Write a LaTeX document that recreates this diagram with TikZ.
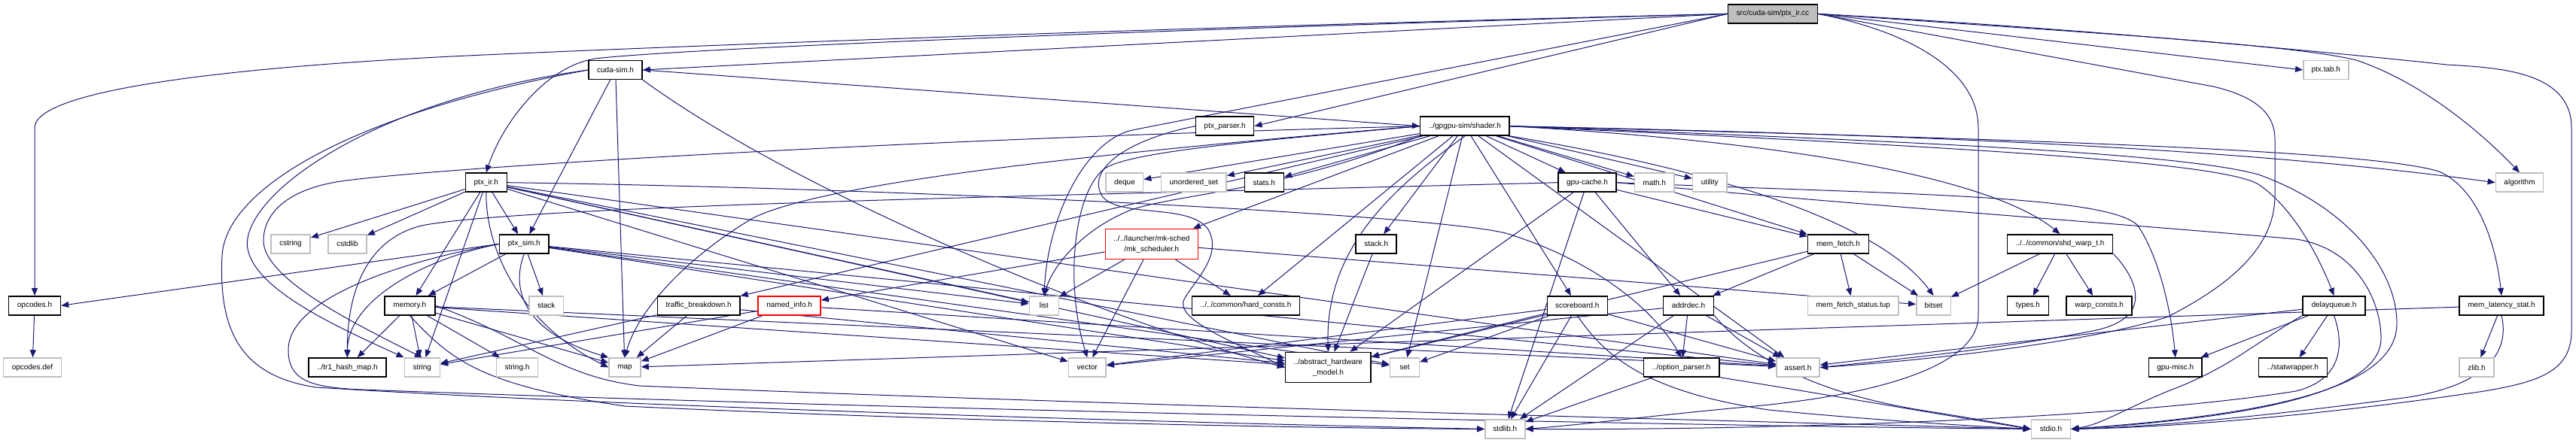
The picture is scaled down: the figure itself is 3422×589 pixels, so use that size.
\documentclass[tikz,border=0pt]{standalone}
\usepackage{fontspec}
\setmainfont{Liberation Sans}
\usetikzlibrary{arrows.meta}
\pgfdeclarelayer{bg}
\pgfsetlayers{bg,main}
\definecolor{edgec}{HTML}{191970}
\definecolor{grayb}{HTML}{BFBFBF}
\tikzset{
 nd/.style={draw=black, line width=1.5pt, fill=white, minimum height=25pt, inner sep=0pt, font=\fontsize{10}{12}\selectfont, text=black},
 gn/.style={nd, draw=grayb},
 rn/.style={nd, draw=red},
 rootn/.style={nd, fill=grayb},
 two/.style={align=center, minimum height=40pt, font=\fontsize{10}{14}\selectfont},
 ed/.style={draw=edgec, line width=1pt, -{Triangle[length=10pt,width=8pt]}},
}
\begin{document}
\begin{tikzpicture}[x=1pt,y=-1pt]
\useasboundingbox (0,0) rectangle (3422,589);
% row 0
\node[rootn, minimum width=119pt] (root) at (2355,18.4) {src/cuda-sim/ptx\_ir.cc};
% row 1
\node[nd, minimum width=71pt] (cudasim) at (817.6,93) {cuda-sim.h};
\node[gn, minimum width=60pt] (ptxtab) at (3089.8,93) {ptx.tab.h};
% row 2
\node[nd, minimum width=77pt] (ptxparser) at (1627.2,167.7) {ptx\_parser.h};
\node[nd, minimum width=118.6pt] (shader) at (1945.9,167.7) {../gpgpu-sim/shader.h};
% row 3
\node[nd, minimum width=55pt] (ptxir) at (645.8,242.7) {ptx\_ir.h};
\node[gn, minimum width=49.4pt] (deque) at (1493.9,242.7) {deque};
\node[gn, minimum width=86.4pt] (unset) at (1585.9,242.7) {unordered\_set};
\node[nd, minimum width=52pt] (stats) at (1679.3,242.7) {stats.h};
\node[nd, minimum width=77pt] (gpucache) at (2108.5,242.7) {gpu-cache.h};
\node[gn, minimum width=52.7pt] (math) at (2197.7,242.7) {math.h};
\node[gn, minimum width=45.5pt] (utility) at (2271.3,242.7) {utility};
\node[gn, minimum width=63.3pt] (algorithm) at (3347,242.7) {algorithm};
% row 4
\node[gn, minimum width=52.4pt] (cstring) at (386,324.4) {cstring};
\node[gn, minimum width=51pt] (cstdlib) at (461.5,324.4) {cstdlib};
\node[nd, minimum width=65.8pt] (ptxsim) at (696.3,324.4) {ptx\_sim.h};
\node[rn, two, minimum width=123pt] (mk) at (1529.8,324.4) {../../launcher/mk-sched\\/mk\_scheduler.h};
\node[nd, minimum width=54pt] (stackh) at (1828.2,324.4) {stack.h};
\node[nd, minimum width=80.7pt] (memfetch) at (2441.9,324.4) {mem\_fetch.h};
\node[nd, minimum width=140.4pt] (shdwarp) at (2736.5,324.4) {../../common/shd\_warp\_t.h};
% row 5
\node[nd, minimum width=69pt] (opcodes) at (46,406.3) {opcodes.h};
\node[nd, minimum width=67pt] (memory) at (544.3,406.3) {memory.h};
\node[gn, minimum width=45.2pt] (stack) at (725.8,406.3) {stack};
\node[nd, minimum width=109.5pt] (traffic) at (928.2,406.3) {traffic\_breakdown.h};
\node[rn, minimum width=83pt] (named) at (1048.6,406.3) {named\_info.h};
\node[gn, minimum width=39pt] (list) at (1386.9,406.3) {list};
\node[nd, minimum width=142.7pt] (hard) at (1655,406.3) {../../common/hard\_consts.h};
\node[nd, minimum width=80pt] (scoreboard) at (2095.3,406.3) {scoreboard.h};
\node[nd, minimum width=67pt] (addrdec) at (2243,406.3) {addrdec.h};
\node[gn, minimum width=120.5pt] (mfstatus) at (2461.8,406.3) {mem\_fetch\_status.tup};
\node[gn, minimum width=45.5pt] (bitset) at (2568.5,406.3) {bitset};
\node[nd, minimum width=55pt] (types) at (2693.9,406.3) {types.h};
\node[nd, minimum width=87pt] (warpc) at (2788.6,406.3) {warp\_consts.h};
\node[nd, minimum width=83pt] (delayq) at (3100.5,406.3) {delayqueue.h};
\node[nd, minimum width=112.3pt] (memlat) at (3323,406.3) {mem\_latency\_stat.h};
% row 6
\node[gn, minimum width=77pt] (opcodesdef) at (43,488.5) {opcodes.def};
\node[nd, minimum width=102.8pt] (tr1) at (461.4,488.5) {../tr1\_hash\_map.h};
\node[gn, minimum width=47pt] (string) at (560.8,488.5) {string};
\node[gn, minimum width=55pt] (stringh) at (687,488.5) {string.h};
\node[gn, minimum width=42pt] (map) at (830,488.5) {map};
\node[gn, minimum width=49.8pt] (vector) at (1444.3,488.5) {vector};
\node[nd, two, minimum width=113.5pt] (abstract) at (1764.4,488.5) {../abstract\_hardware\\\_model.h};
\node[gn, minimum width=39pt] (set) at (1865.9,488.5) {set};
\node[nd, minimum width=100.3pt] (optparser) at (2233.6,488.5) {../option\_parser.h};
\node[gn, minimum width=57.4pt] (assert) at (2388.5,488.5) {assert.h};
\node[nd, minimum width=70.3pt] (gpumisc) at (2889.7,488.5) {gpu-misc.h};
\node[nd, minimum width=91pt] (statwrap) at (3045.8,488.5) {../statwrapper.h};
\node[gn, minimum width=45.7pt] (zlib) at (3290,488.5) {zlib.h};
% row 7
\node[gn, minimum width=53.1pt] (stdlib) at (1999.3,570.4) {stdlib.h};
\node[gn, minimum width=52.1pt] (stdio) at (2724.5,570.4) {stdio.h};

\begin{pgfonlayer}{bg}
% root
\draw[ed] (root.west) .. controls (1400,40) and (700,70) .. (600,75) .. controls (300,90) and (46,120) .. (46,170) -- (opcodes.north);
\draw[ed] (root.west) -- (cudasim.east);
\draw[ed] (root.west) .. controls (1500,40) and (900,65) .. (790,78) .. controls (720,90) and (665,170) .. (ptxir.north);
\draw[ed] (root.west) -- (ptxparser.east);
\draw[ed] (root.west) -- (1504,173) .. controls (1440,188) and (1392,290) .. (list.north);
\draw[ed] (root.east) -- (ptxtab.west);
\draw[ed] (root.east) .. controls (2800,45) and (3050,60) .. (3130,80) .. controls (3220,110) and (3300,180) .. (algorithm.north);
\draw[ed] (root.east) .. controls (2800,40) and (3150,75) .. (3250,86) .. controls (3320,90) and (3416,95) .. (3416,170) -- (3416,440) .. controls (3416,495) and (3370,508) .. (3300,520) .. controls (3100,550) and (2900,568) .. (stdio.east);
\draw[ed] (root.east) .. controls (2550,45) and (2628,100) .. (2628,170) -- (2628,420) .. controls (2628,485) and (2500,525) .. (2320,541) .. controls (2200,552) and (2100,565) .. (stdlib.east);
\draw[ed] (root.east) -- (2940,115) .. controls (2995,128) and (3022,150) .. (3022,185) -- (3022,260) .. controls (3022,330) and (2960,380) .. (2880,421) .. controls (2780,455) and (2550,480) .. (assert.east);
% opcodes.h
\draw[ed] (opcodes) -- (opcodesdef);
% cuda-sim.h
\draw[ed] (cudasim.east) -- (shader.west);
\draw[ed] (cudasim) -- (ptxsim);
\draw[ed] (cudasim) -- (map);
\draw[ed] (cudasim.south east) .. controls (1050,250) and (1450,420) .. (abstract.west);
\draw[ed] (cudasim.west) .. controls (480,135) and (310,270) .. (330,335) .. controls (345,390) and (460,440) .. (string.north west);
\draw[ed] (cudasim.west) .. controls (470,150) and (300,250) .. (295,340) .. controls (290,440) and (320,500) .. (420,515) .. controls (900,545) and (1700,565) .. (stdlib.west);
% ptx_parser.h
\draw[ed] (ptxparser.west) .. controls (1500,185) and (1440,225) .. (1465,262) .. controls (1490,290) and (1580,270) .. (1605,305) .. controls (1625,340) and (1585,375) .. (1573,398) .. controls (1560,425) and (1640,455) .. (abstract.west);
% ptx_ir.h
\draw[ed] (ptxir) -- (cstring);
\draw[ed] (ptxir) -- (cstdlib);
\draw[ed] (ptxir) -- (ptxsim);
\draw[ed] (ptxir) -- (memory);
\draw[ed] (ptxir.south) .. controls (645,330) and (690,430) .. (map.west);
\draw[ed] (ptxir) -- (list);
\draw[ed] (ptxir) -- (vector);
\draw[ed] (ptxir) -- (set);
\draw[ed] (ptxir) -- (assert);
\draw[ed] (ptxir) -- (abstract);
\draw[ed] (ptxir.east) .. controls (1200,250) and (1900,285) .. (2000,310) .. controls (2100,340) and (2190,400) .. (optparser.north);
\draw[ed] (ptxir) -- (string);
% ptx_sim.h
\draw[ed] (ptxsim.west) -- (opcodes.east);
\draw[ed] (ptxsim) -- (memory);
\draw[ed] (ptxsim) -- (stack);
\draw[ed] (ptxsim.south) .. controls (680,380) and (690,440) .. (map.north west);
\draw[ed] (ptxsim.west) .. controls (560,345) and (462,400) .. (tr1.north);
\draw[ed] (ptxsim) -- (list);
\draw[ed] (ptxsim) -- (set);
\draw[ed] (ptxsim) -- (abstract);
\draw[ed] (ptxsim) -- (assert);
\draw[ed] (ptxsim.west) .. controls (520,350) and (383,400) .. (383,465) .. controls (383,505) and (410,515) .. (480,518) .. controls (1200,545) and (2300,567) .. (stdio.west);
% memory.h
\draw[ed] (memory) -- (tr1);
\draw[ed] (memory) -- (string);
\draw[ed] (memory) -- (stringh);
\draw[ed] (memory) -- (map);
\draw[ed] (memory) -- (abstract);
\draw[ed] (memory) -- (assert);
\draw[ed] (memory.south) .. controls (600,480) and (640,512) .. (830,540) .. controls (1300,562) and (1800,570) .. (stdlib.west);
\draw[ed] (memory.east) .. controls (700,450) and (740,500) .. (850,513) .. controls (1500,540) and (2400,562) .. (stdio.west);
% named_info.h
\draw[ed] (named) -- (string);
\draw[ed] (named) -- (map);
\draw[ed] (named) -- (assert);
% traffic_breakdown.h
\draw[ed] (traffic) -- (map);
\draw[ed] (traffic) -- (string);
\draw[ed] (traffic) -- (abstract);
% mk_scheduler.h
\draw[ed] (mk) -- (named);
\draw[ed] (mk) -- (list);
\draw[ed] (mk) -- (vector);
\draw[ed] (mk) -- (hard);
\draw[ed] (mk) -- (bitset);
% shader.h
\draw[ed] (shader) -- (deque);
\draw[ed] (shader) -- (unset);
\draw[ed] (shader) -- (stats);
\draw[ed] (shader) -- (math);
\draw[ed] (shader) -- (utility);
\draw[ed] (shader) -- (gpucache);
\draw[ed] (shader) -- (stackh);
\draw[ed] (shader) -- (scoreboard);
\draw[ed] (shader.south) .. controls (1850,250) and (1760,330) .. (abstract.north);
\draw[ed] (shader) -- (set);
\draw[ed] (shader.south west) .. controls (1700,255) and (1560,258) .. (1500,280) .. controls (1440,305) and (1400,350) .. (list.north);
\draw[ed] (shader.west) .. controls (1700,185) and (1500,200) .. (1466,225) .. controls (1425,260) and (1415,380) .. (vector.north);
\draw[ed] (shader.west) .. controls (1500,200) and (1100,240) .. (1000,290) .. controls (900,350) and (845,420) .. (map.north);
\draw[ed] (shader) -- (mk);
\draw[ed] (shader) -- (hard);
\draw[ed] (shader) -- (traffic);
\draw[ed] (shader) -- (memfetch);
\draw[ed] (shader.south east) .. controls (2300,230) and (2500,300) .. (bitset.north);
\draw[ed] (shader.east) .. controls (2400,190) and (2650,240) .. (shdwarp.north);
\draw[ed] (shader.east) .. controls (2600,195) and (2950,215) .. (3000,245) .. controls (3045,275) and (3080,340) .. (delayq.north);
\draw[ed] (shader.east) .. controls (2700,185) and (3150,200) .. (3240,228) .. controls (3290,250) and (3315,320) .. (memlat.north);
\draw[ed] (shader.east) .. controls (2600,180) and (3000,200) .. (algorithm.west);
\draw[ed] (shader) -- (assert);
\draw[ed] (shader.east) .. controls (2600,190) and (2900,205) .. (3000,232) .. controls (3120,275) and (3184,360) .. (3184,430) .. controls (3184,520) and (3000,552) .. (stdio.east);
\draw[ed] (shader.west) .. controls (1200,185) and (600,222) .. (460,240) .. controls (380,250) and (350,285) .. (350,320) .. controls (350,370) and (470,430) .. (string.north);
% gpu-cache.h
\draw[ed] (gpucache.west) .. controls (1500,258) and (700,272) .. (560,300) .. controls (480,320) and (461,400) .. (tr1.north);
\draw[ed] (gpucache) -- (abstract);
\draw[ed] (gpucache) -- (stdlib);
\draw[ed] (gpucache) -- (addrdec);
\draw[ed] (gpucache) -- (memfetch);
\draw[ed] (gpucache.east) .. controls (2500,258) and (2800,258) .. (2840,300) .. controls (2870,345) and (2885,420) .. (gpumisc.north);
\draw[ed] (gpucache.east) .. controls (2500,275) and (2850,300) .. (3050,318) .. controls (3130,330) and (3163,400) .. (3163,450) .. controls (3163,520) and (3000,555) .. (stdio.east);
% stack.h
\draw[ed] (stackh) -- (abstract);
% scoreboard.h
\draw[ed] (scoreboard) -- (set);
\draw[ed] (scoreboard) -- (vector);
\draw[ed] (scoreboard) -- (stdlib);
\draw[ed] (scoreboard) -- (abstract);
\draw[ed] (scoreboard) -- (assert);
\draw[ed] (scoreboard.south) .. controls (2130,470) and (2180,520) .. (2350,545) .. controls (2500,560) and (2650,568) .. (stdio.west);
% addrdec.h
\draw[ed] (addrdec) -- (stdlib);
\draw[ed] (addrdec) -- (optparser);
\draw[ed] (addrdec.south east) .. controls (2320,470) and (2400,520) .. (2550,545) .. controls (2620,556) and (2670,565) .. (stdio.west);
\draw[ed] (addrdec) -- (assert);
\draw[ed] (addrdec) -- (vector);
% option_parser.h
\draw[ed] (optparser) -- (stdlib);
\draw[ed] (optparser.south east) .. controls (2400,520) and (2600,555) .. (stdio.west);
% mem_fetch.h
\draw[ed] (memfetch) -- (mfstatus);
\draw[ed] (memfetch) -- (bitset);
\draw[ed] (memfetch) -- (addrdec);
\draw[ed] (memfetch) -- (abstract);
% shd_warp_t.h
\draw[ed] (shdwarp) -- (bitset);
\draw[ed] (shdwarp) -- (types);
\draw[ed] (shdwarp) -- (warpc);
\draw[ed] (shdwarp.south east) .. controls (2820,350) and (2880,420) .. (2780,440) .. controls (2650,465) and (2500,480) .. (assert.east);
% delayqueue.h
\draw[ed] (delayq) -- (gpumisc);
\draw[ed] (delayq) -- (statwrap);
\draw[ed] (delayq) -- (assert);
\draw[ed] (delayq.south west) .. controls (2990,460) and (2960,490) .. (2880,520) .. controls (2820,545) and (2790,565) .. (stdio.east);
\draw[ed] (delayq.south) .. controls (3115,460) and (3110,505) .. (3050,520) .. controls (2800,560) and (2300,572) .. (stdlib.east);
% mem_latency_stat.h
\draw[ed] (memlat) -- (zlib);
\draw[ed] (memlat) -- (map);
\draw[ed] (memlat.south) .. controls (3335,470) and (3300,512) .. (3200,528) .. controls (3000,555) and (2850,568) .. (stdio.east);
\end{pgfonlayer}
\end{tikzpicture}
\end{document}
